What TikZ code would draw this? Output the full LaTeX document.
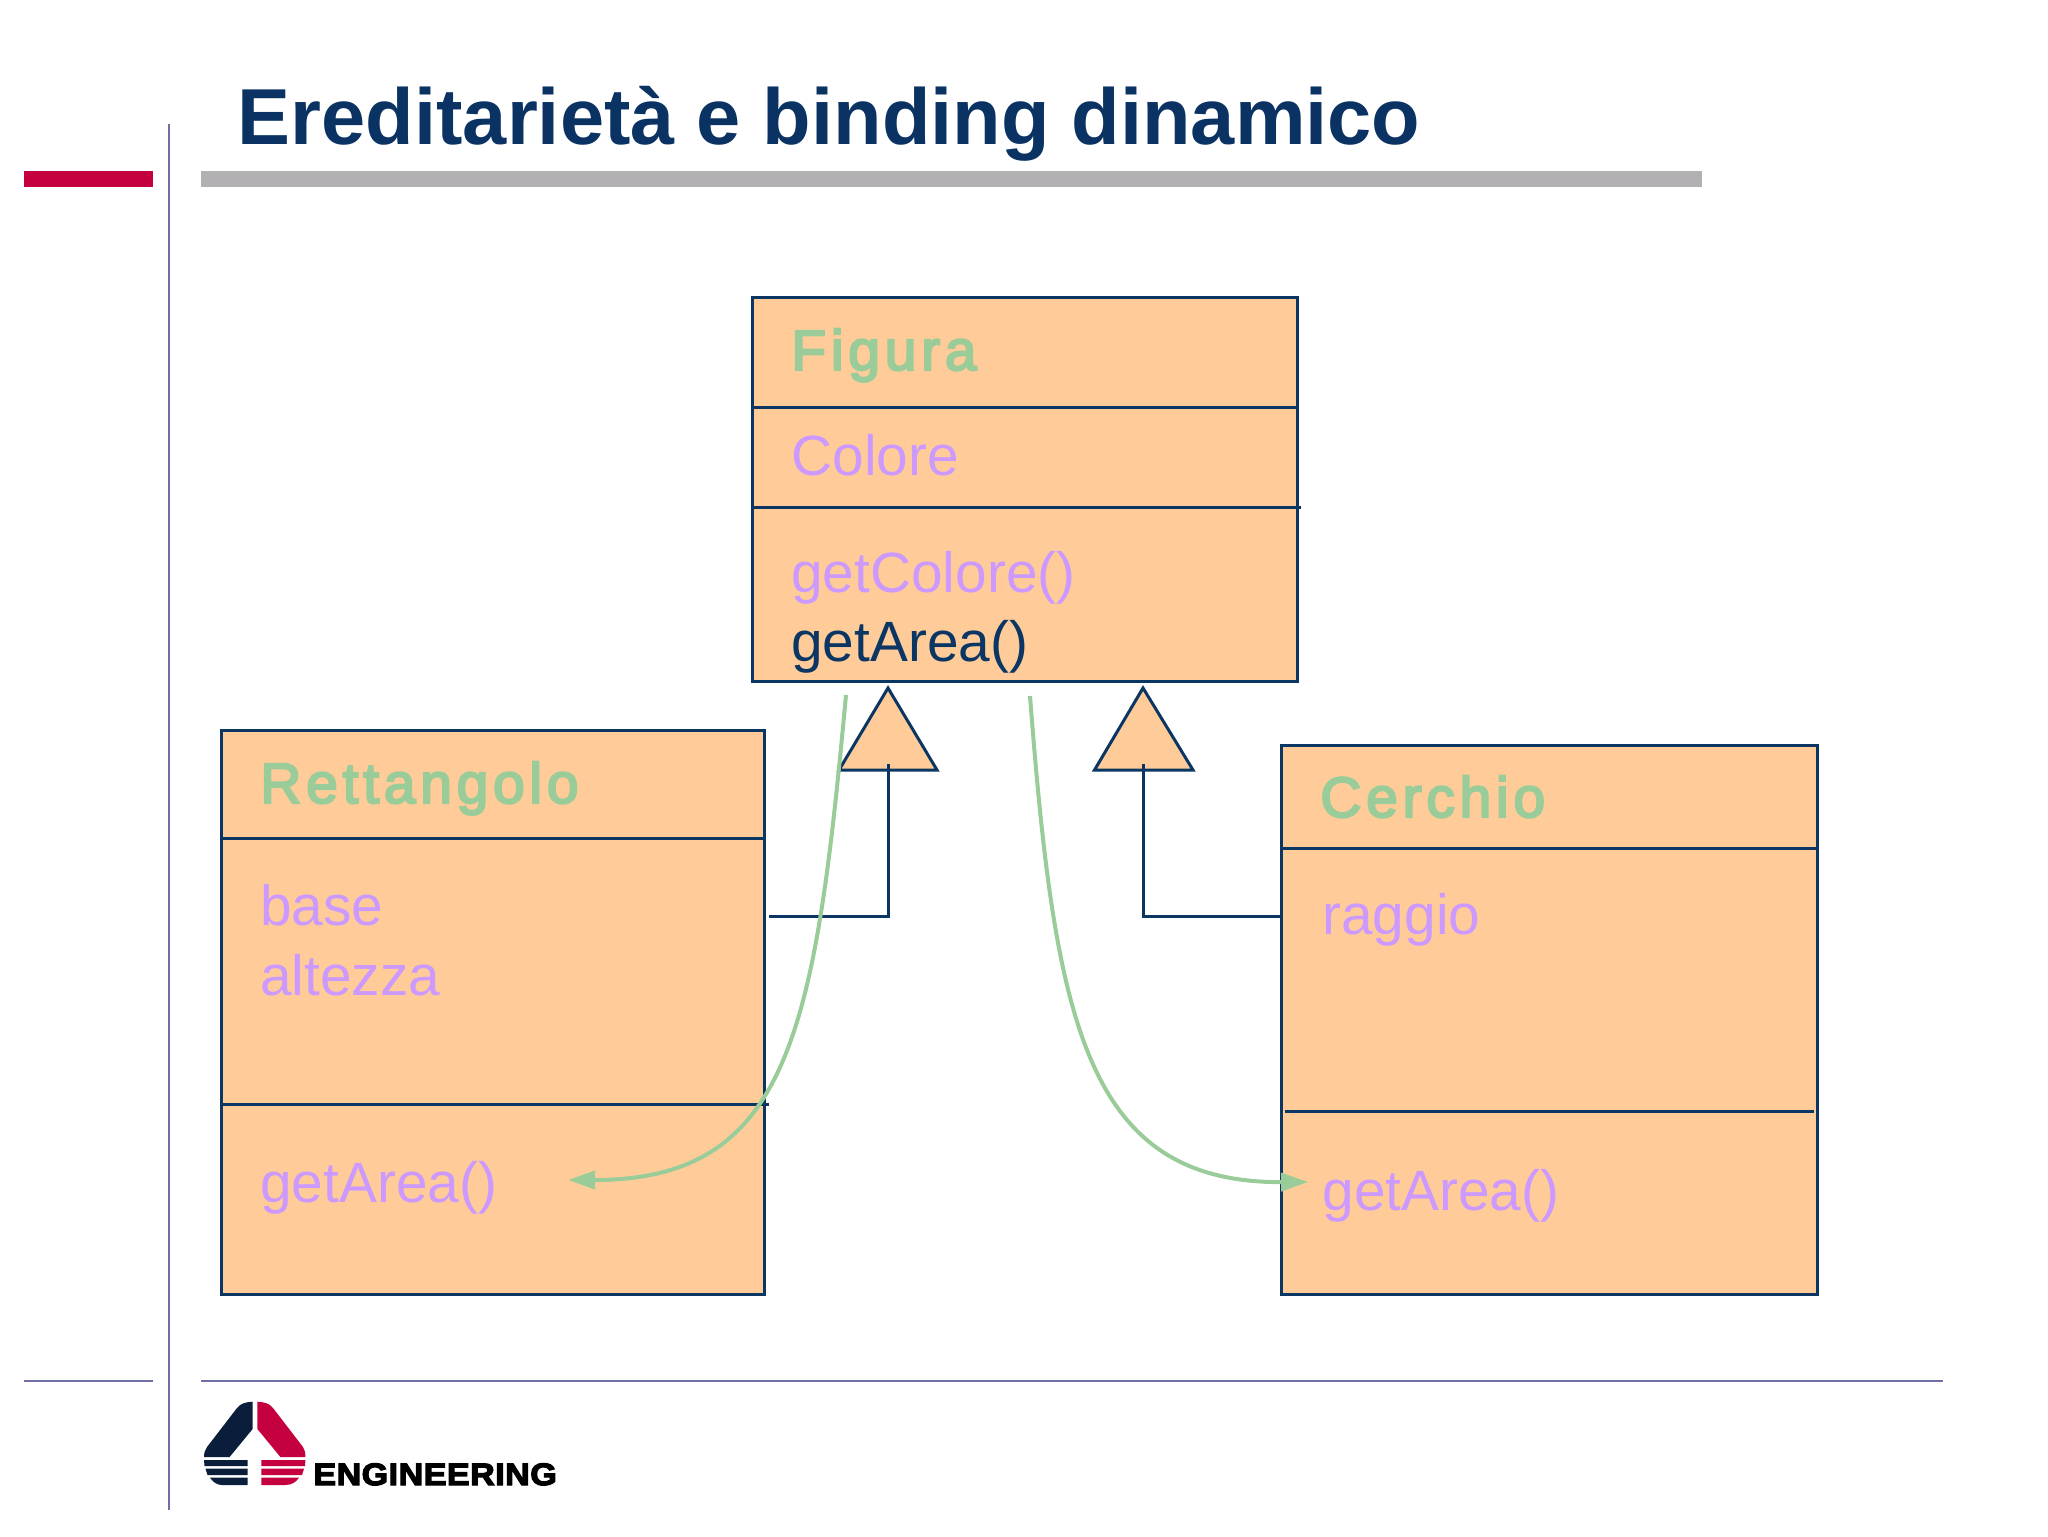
\documentclass[tikz,border=0pt]{standalone}
\usepackage{fontspec}
\setmainfont{Liberation Sans}
\newfontfamily\headfont[LetterSpace=8.5,FakeBold=4]{Liberation Sans}
\newfontfamily\logofont[FakeBold=4,FakeStretch=1.1,LetterSpace=1.5]{Liberation Sans Bold}
\usetikzlibrary{arrows.meta}
\definecolor{navy}{HTML}{0B3664}
\definecolor{titleblue}{HTML}{0A3263}
\definecolor{peach}{HTML}{FFCC99}
\definecolor{leaf}{HTML}{99CC99}
\definecolor{lilac}{HTML}{CC99FF}
\definecolor{rulepurple}{HTML}{6F6FA8}
\definecolor{barred}{HTML}{C4003F}
\definecolor{bargrey}{HTML}{B2B0B2}
\definecolor{logonavy}{HTML}{0A1E3C}
\tikzset{
  classbox/.style={draw=navy,line width=1.5pt,fill=peach,anchor=north west,inner sep=0pt,outer sep=0pt},
  sepline/.style={draw=navy,line width=1.5pt},
  tribox/.style={draw=navy,line width=1.5pt,fill=peach,line join=miter},
  link/.style={draw=navy,line width=1.5pt},
  dyn/.style={draw=leaf,line width=2pt,-{Triangle[length=13.5pt,width=9pt]}},
  rulel/.style={draw=rulepurple,line width=1pt},
  headt/.style={anchor=base west,inner sep=0pt,text=leaf,font=\fontsize{28.4}{30}\headfont},
  membert/.style={anchor=base west,inner sep=0pt,text=lilac,font=\fontsize{28.4}{30}\selectfont},
}
\begin{document}
\begin{tikzpicture}[x=0.5pt,y=-0.5pt]
\useasboundingbox (0,0) rectangle (2048,1536);
% page furniture
\node[anchor=base west,inner sep=0pt,text=titleblue,font=\fontsize{39.7}{42}\selectfont\bfseries] (title) at (237.5,144.5) {Ereditarietà e binding dinamico};
\fill[barred] (24,171) rectangle (153,187);
\fill[bargrey] (201,171) rectangle (1702,187);
\draw[rulel] (169,124) -- (169,1510);
\draw[rulel] (24,1380.5) -- (153,1380.5);
\draw[rulel] (201,1380.5) -- (1943,1380.5);
% logo
\fill[logonavy] (252.6,1401.7) .. controls (245,1402) and (240,1404) .. (237,1408) -- (207,1447) .. controls (205,1450) and (204,1453) .. (204,1457) -- (229.6,1457) -- (252.6,1429) -- cycle;
\fill[barred] (257.4,1401.7) .. controls (265,1402) and (270,1404) .. (273,1408) -- (303,1447) .. controls (305,1450) and (305.4,1453) .. (305.4,1457) -- (280.4,1457) -- (257.4,1429) -- cycle;
\fill[logonavy] (204,1460) -- (247.6,1460) -- (247.6,1466) -- (204.5,1466) -- cycle;
\fill[logonavy] (205.5,1468.7) -- (247.6,1468.7) -- (247.6,1475) -- (207.5,1475) -- cycle;
\fill[logonavy] (210,1477.7) -- (247.6,1477.7) -- (247.6,1485) -- (222,1485) .. controls (217,1485) and (213,1482) .. (210,1477.7) -- cycle;
\fill[barred] (261.4,1460) -- (305.4,1460) -- (305,1466) -- (261.4,1466) -- cycle;
\fill[barred] (261.4,1468.7) -- (304,1468.7) -- (302,1475) -- (261.4,1475) -- cycle;
\fill[barred] (261.4,1477.7) -- (299,1477.7) .. controls (296,1482) and (292,1485) .. (285,1485) -- (261.4,1485) -- cycle;
\node[anchor=base west,inner sep=0pt,font=\fontsize{15.5}{16}\logofont] (logotext) at (313,1485) {ENGINEERING};
% triangles
\coordinate (tria) at (888,688);
\coordinate (trial) at (839,770);
\coordinate (triar) at (937,770);
\coordinate (trib) at (1143,688);
\coordinate (tribl) at (1094.5,770);
\coordinate (tribr) at (1193,770);
\path[tribox] (tria) -- (triar) -- (trial) -- cycle;
\path[tribox] (trib) -- (tribr) -- (tribl) -- cycle;
% class boxes
\node[classbox,minimum width=272.25pt,minimum height=192.25pt] (figura) at (752.5,297) {};
\node[classbox,minimum width=271.75pt,minimum height=282pt] (rett) at (221,730) {};
\node[classbox,minimum width=267.75pt,minimum height=274.5pt] (cerchio) at (1281.5,745) {};
% compartments
\draw[sepline] (752,407) -- (1297,407);
\draw[sepline] (752,507) -- (1301,507);
\draw[sepline] (221,838) -- (764,838);
\draw[sepline] (221,1104) -- (769,1104);
\draw[sepline] (1282,848) -- (1817,848);
\draw[sepline] (1285,1111) -- (1814,1111);
% texts
\node[headt] (t1) at (791,370) {Figura};
\node[membert] (t2) at (791,475) {Colore};
\node[membert] (t3) at (791,592) {getColore()};
\node[membert,text=navy] (t4) at (791,661) {getArea()};
\node[headt] (t5) at (260,803) {Rettangolo};
\node[membert] (t6) at (260,925) {base};
\node[membert] (t7) at (260,995) {altezza};
\node[membert] (t8) at (260,1202) {getArea()};
\node[headt] (t9) at (1320,817) {Cerchio};
\node[membert] (t10) at (1322,934) {raggio};
\node[membert] (t11) at (1322,1210) {getArea()};
% inheritance connectors
\coordinate (linka) at (769,916);
\coordinate (benda) at (888,916);
\coordinate (topa) at (888,764);
\coordinate (bendb) at (1143,916);
\coordinate (topb) at (1143,764);
\draw[link] (linka) -- (benda) -- (topa);
\draw[link] (cerchio.west |- bendb) -- (bendb) -- (topb);
% dynamic binding curves
\coordinate (dyna) at (846,695);
\coordinate (dynb) at (1030,696);
\coordinate (tipa) at (568,1180);
\coordinate (tipb) at (1308,1182);
\draw[dyn] (dyna) .. controls (815,1030) and (790,1180) .. (tipa);
\draw[dyn] (dynb) .. controls (1055,1020) and (1085,1183) .. (tipb);
\end{tikzpicture}
\end{document}
